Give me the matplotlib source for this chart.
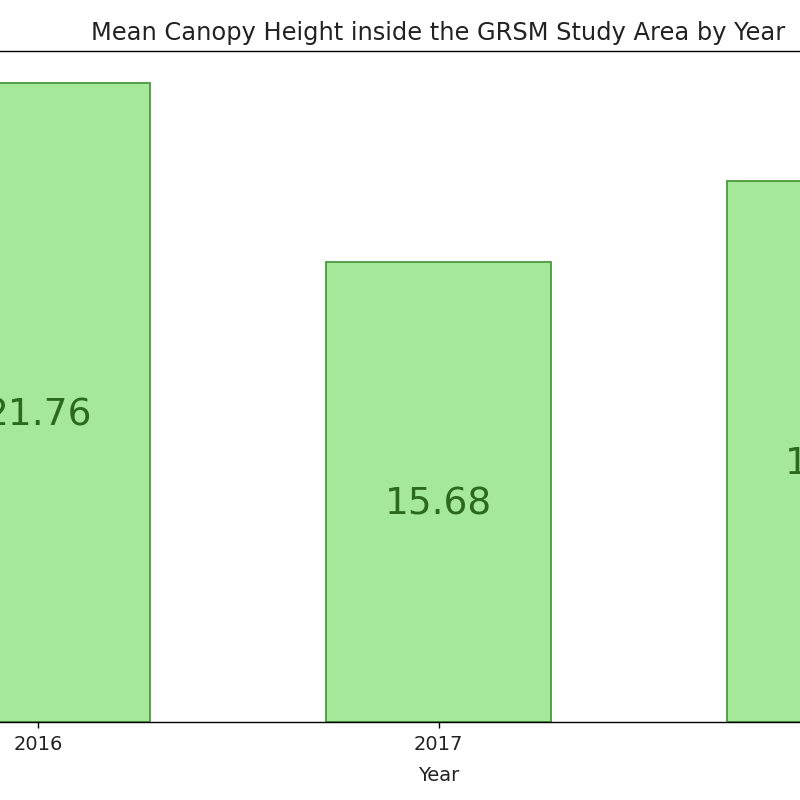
import matplotlib
matplotlib.use("Agg")
import matplotlib.pyplot as plt

years = ["2016", "2017", "2018"]
heights = [21.76, 15.68, 18.42]
value_labels = ["21.76", "15.68", "18.42"]

fig = plt.figure(figsize=(8, 8), dpi=100)
ax = fig.add_axes([-125/800, 78/800, 1127/800, 671/800])

x = list(range(len(years)))
bars = ax.bar(x, heights, width=0.56, color="#a6e89a", edgecolor="#4a9a3c", linewidth=1.3)
ax.set_xticks(x)
ax.set_xticklabels(years, fontsize=14, color="#222222")
ax.tick_params(axis="x", length=4.5, pad=4.5, width=1.0)
for s in ax.spines.values():
    s.set_linewidth(1.0)
for xi, h, lab in zip(x, heights, value_labels):
    ax.annotate(lab, (xi, h / 2), xytext=(0, 3.6), textcoords="offset points",
                ha="center", va="top", fontsize=27, color="#2b6a1e")

ax.set_xlabel("Year", fontsize=14, labelpad=9, color="#222222")
ax.set_title("Mean Canopy Height inside the GRSM Study Area by Year", fontsize=17.4, pad=8,
             color="#222222")

fig.savefig("out.png", dpi=100)
